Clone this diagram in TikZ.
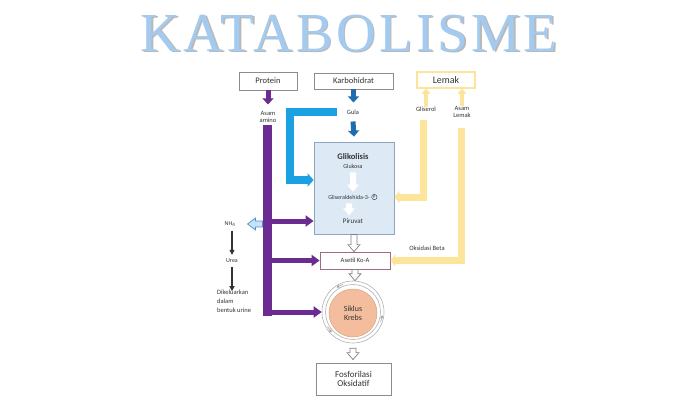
\documentclass[tikz,border=0pt]{standalone}
\usepackage{fontspec}
\setmainfont{Carlito}
\newfontfamily\titlefont[LetterSpace=6]{Liberation Serif}
\usetikzlibrary{arrows.meta,calc,positioning}
\definecolor{purp}{HTML}{6B2C91}
\definecolor{cyanb}{HTML}{1BA1E2}
\definecolor{darkb}{HTML}{1F6CB0}
\definecolor{yel}{HTML}{FCE49A}
\definecolor{glifill}{HTML}{DDEAF6}
\definecolor{gliline}{HTML}{8FA6C0}
\definecolor{boxline}{HTML}{8C8C8C}
\definecolor{asetline}{HTML}{A06A88}
\definecolor{krebsfill}{HTML}{F4BE9E}
\definecolor{krebsline}{HTML}{D9A283}
\definecolor{titleblue}{HTML}{A3CBF0}
\definecolor{txt}{HTML}{333333}
\definecolor{nhfill}{HTML}{C9E2F7}
\definecolor{nhline}{HTML}{4A90D0}
\newcommand\hollowdown[3]{%
  \draw[#3] let \p1=(#1), \p2=(#2) in
    (\x1-3pt,\y1) -- (\x1+3pt,\y1) -- (\x1+3pt,\y2+7pt) -- (\x1+6pt,\y2+7pt)
    -- (\x1,\y2) -- (\x1-6pt,\y2+7pt) -- (\x1-3pt,\y2+7pt) -- cycle;}
\newcommand\hollowleft[3]{%
  \draw[#3] let \p1=(#1), \p2=(#2) in
    (\x1,\y1-3pt) -- (\x1,\y1+3pt) -- (\x2+8pt,\y1+3pt) -- (\x2+8pt,\y1+6pt)
    -- (\x2,\y1) -- (\x2+8pt,\y1-6pt) -- (\x2+8pt,\y1-3pt) -- cycle;}
\tikzset{
  box/.style={draw=boxline, line width=0.8pt, fill=white, inner sep=0pt, text=txt},
  lbl/.style={font=\fontsize{6.5}{7}\selectfont, align=center, inner sep=0pt, text=txt},
  parrow/.style={purp, line width=5pt, -{Triangle[width=11pt,length=8pt]}},
  darrow/.style={darkb, line width=5pt, -{Triangle[width=11pt,length=6pt]}},
  yarrow/.style={yel, line width=4pt, -{Triangle[width=9pt,length=5pt]}},
  ybar/.style={yel, line width=7pt, -{Triangle[width=12pt,length=5pt]}},
  hollow/.style={draw=gray, line width=0.7pt, fill=white},
}
\begin{document}
\begin{tikzpicture}[x=1pt,y=-1pt]
\useasboundingbox[fill=white] (0,0) rectangle (700,400);
% title
\node[font=\titlefont\fontsize{55}{55}\selectfont, text=gray!55, anchor=base] (titleshadow) at (350.5,52.5) {KATABOLISME};
\node[font=\titlefont\fontsize{55}{55}\selectfont, text=titleblue, anchor=base] (title) at (349,51) {KATABOLISME};
% top boxes
\node[box, minimum width=58pt, minimum height=18pt, font=\fontsize{8.5}{9}\selectfont] (protein) at (268,81) {Protein};
\node[box, minimum width=79pt, minimum height=16pt, font=\fontsize{8.5}{9}\selectfont] (karbo) at (353.5,81) {Karbohidrat};
\node[box, draw=yel, line width=1.3pt, minimum width=58pt, minimum height=16pt, font=\fontsize{10}{10}\selectfont] (lemak) at (446,80) {Lemak};
% labels
\node[lbl] (amino) at (268,117) {Asam\\amino};
\node[lbl] (gula) at (353,112) {Gula};
\node[lbl] (gliserol) at (426,109) {Gliserol};
\node[lbl] (asamlemak) at (462,112) {Asam\\Lemak};
% glikolisis
\node[draw=gliline, fill=glifill, line width=0.8pt, minimum width=80pt, minimum height=92pt, inner sep=0pt] (gli) at (354,188) {};
\node[font=\bfseries\fontsize{8.5}{9}\selectfont, inner sep=0pt, text=txt] (glik) at (353,157) {Glikolisis};
\node[lbl, font=\fontsize{6}{6}\selectfont] (glukosa) at (353,166) {Glukosa};
\node[lbl, font=\fontsize{6}{6}\selectfont] (gald) at (349,197) {Gliseraldehida-3-};
\node[circle, draw=txt, line width=0.4pt, inner sep=0.6pt, font=\fontsize{4.5}{4.5}\selectfont, text=txt, right=1.5pt of gald] (pcirc) {P};
\node[lbl, font=\fontsize{7}{7}\selectfont] (piruvat) at (353,221) {Piruvat};
\hollowdown{$(glukosa.south)+(0,4)$}{$(gald.north)+(0,-3)$}{fill=white, draw=none}
\hollowdown{$(gald.south)+(0,4)$}{$(piruvat.north)+(0,-3)$}{fill=white, draw=none}
% lower boxes
\node[box, draw=asetline, minimum width=70pt, minimum height=17pt, font=\fontsize{6.5}{7}\selectfont] (asetil) at (355,260.5) {Asetil Ko-A};
\node[circle, draw=gray!60, line width=0.6pt, fill=white, minimum size=62pt, inner sep=0pt] (krebsring) at (353,312) {};
\draw[gray!60, line width=0.6pt] (krebsring.center) circle (27.5pt);
\node[circle, fill=krebsfill, draw=krebsline, line width=0.5pt, minimum size=48pt, inner sep=0pt, align=center, font=\fontsize{8}{8.5}\selectfont, text=txt] (krebs) at (353,313) {Siklus\\Krebs};
\foreach \a in {150,20,250}{
  \draw[gray!70, line width=0.6pt, -{Stealth[length=3.5pt,width=3.5pt]}] ($(krebsring.center)+(\a:29.3)$) arc[start angle=\a, delta angle=-14, radius=29.3];
}
\node[box, minimum width=75pt, minimum height=32pt, align=center, font=\fontsize{9}{9.5}\selectfont] (fosfor) at (353.5,379) {Fosforilasi\\Oksidatif};
% left labels
\node[lbl, font=\fontsize{6}{6}\selectfont] (nh4) at (230,224) {NH\textsubscript{4}};
\node[lbl, font=\fontsize{6}{6}\selectfont] (urea) at (232,261) {Urea};
\node[lbl, align=left, font=\fontsize{6.5}{9}\selectfont, anchor=north west] (urine) at (217,290) {Dikeluarkan\\dalam\\bentuk urine};
\node[lbl] (oksbeta) at (427,248) {Oksidasi Beta};
% purple
\coordinate (ptop) at (267,129.5);
\coordinate (pbot) at (267,311);
\draw[purp, line width=5pt, -{Triangle[width=11pt,length=6pt]}] (protein.south) -- ++(0,14);
\draw[purp, line width=9pt, line cap=rect] (ptop) -- (pbot);
\draw[parrow] (pbot |- piruvat) -- (gli.west |- piruvat);
\draw[parrow] (pbot |- asetil) -- (asetil.west);
\draw[parrow] (pbot |- krebsring) -- (krebsring.west);
\hollowleft{$(ptop |- nh4)+(-4.5,0)$}{$(nh4.east)+(12,0)$}{fill=nhfill, draw=nhline, line width=0.7pt}
% black arrows
\draw[black!80, line width=1.3pt, -{Triangle[width=5pt,length=5pt]}] ($(nh4.south)+(2,4)$) -- ($(urea.north)+(0,-4)$);
\draw[black!80, line width=1.3pt, -{Triangle[width=5pt,length=5pt]}] ($(urea.south)+(0,4)$) -- ($(urea.south)+(0,28)$);
% blue
\coordinate (ccorner) at (290,180);
\draw[cyanb, line width=8pt, -{Triangle[width=13pt,length=6pt]}] ($(gula.west)+(-10,0)$) -| (ccorner) -- (ccorner -| gli.west);
\draw[darrow] (karbo.south) -- ++(0,13);
\draw[darrow] ($(gula.south)+(0,7)$) -- ($(gli.north)+(0,-5)$);
% yellow
\draw[yarrow] (gliserol.north) -- (gliserol.north |- lemak.south);
\draw[yarrow] (asamlemak.north) -- (asamlemak.north |- lemak.south);
\coordinate (y1) at (423,120);
\coordinate (y2) at (461,128);
\draw[ybar] (y1) |- (gli.east |- gald);
\draw[ybar] (y2) |- (asetil.east);
% hollow arrows
\hollowdown{gli.south}{asetil.north}{hollow}
\hollowdown{asetil.south}{krebsring.north}{hollow}
\hollowdown{$(krebsring.south)+(0,5)$}{$(fosfor.north)+(0,-3)$}{hollow}
\end{tikzpicture}
\end{document}
